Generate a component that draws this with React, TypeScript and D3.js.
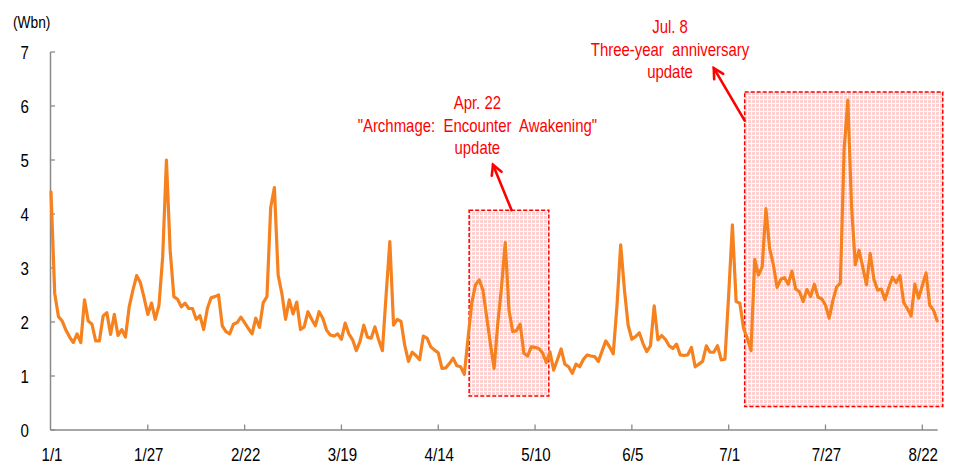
import React from "react";
import * as d3 from "d3";

// Daily revenue (Wbn), 2016-01-01 .. 2016-08-26 (day index 0..238)
const values: number[] = [
  4.41, 2.53, 2.10, 2.02, 1.85, 1.72, 1.62, 1.78, 1.62, 2.41,
  2.02, 1.96, 1.65, 1.65, 2.11, 2.17, 1.77, 2.14, 1.75, 1.86,
  1.72, 2.28, 2.59, 2.86, 2.73, 2.45, 2.14, 2.35, 2.05, 2.31,
  3.21, 5.00, 3.33, 2.47, 2.42, 2.28, 2.35, 2.25, 2.25, 2.05,
  2.12, 1.86, 2.25, 2.45, 2.47, 2.50, 1.93, 1.82, 1.78, 1.96,
  1.99, 2.09, 1.99, 1.88, 1.78, 2.07, 1.90, 2.36, 2.47, 4.12,
  4.49, 2.87, 2.53, 2.05, 2.41, 2.15, 2.37, 1.86, 1.91, 2.19,
  2.05, 1.93, 2.19, 2.07, 1.85, 1.76, 1.74, 1.78, 1.68, 1.98,
  1.78, 1.67, 1.47, 1.64, 1.94, 1.72, 1.70, 1.91, 1.67, 1.47,
  2.50, 3.49, 1.94, 2.05, 2.01, 1.57, 1.27, 1.44, 1.38, 1.30,
  1.74, 1.70, 1.54, 1.48, 1.43, 1.14, 1.15, 1.23, 1.33, 1.19,
  1.17, 1.03, 1.70, 2.35, 2.69, 2.78, 2.59, 2.10, 1.60, 1.14,
  1.98, 2.65, 3.47, 2.22, 1.82, 1.84, 1.96, 1.42, 1.37, 1.54,
  1.53, 1.51, 1.43, 1.25, 1.45, 1.11, 1.30, 1.50, 1.22, 1.17,
  1.05, 1.22, 1.17, 1.31, 1.39, 1.37, 1.36, 1.27, 1.46, 1.65,
  1.54, 1.41, 2.30, 3.43, 2.60, 1.94, 1.68, 1.73, 1.80, 1.60,
  1.45, 1.56, 2.30, 1.67, 1.75, 1.68, 1.56, 1.51, 1.59, 1.39,
  1.38, 1.39, 1.53, 1.17, 1.22, 1.27, 1.56, 1.44, 1.44, 1.56,
  1.30, 1.31, 2.50, 3.80, 2.38, 2.35, 1.88, 1.70, 1.47, 3.16,
  2.87, 3.02, 4.10, 3.36, 3.06, 2.64, 2.79, 2.82, 2.70, 2.94,
  2.61, 2.56, 2.38, 2.60, 2.47, 2.70, 2.46, 2.43, 2.31, 2.07,
  2.40, 2.65, 2.72, 5.19, 6.11, 4.14, 3.06, 3.33, 3.02, 2.69,
  3.27, 2.79, 2.59, 2.61, 2.41, 2.64, 2.83, 2.73, 2.86, 2.36,
  2.25, 2.11, 2.70, 2.44, 2.67, 2.91, 2.31, 2.22, 2.02,
];

const tickDays: number[] = [0, 26, 52, 78, 104, 130, 156, 182, 208, 234];
const tickLabels: string[] = ["1/1", "1/27", "2/22", "3/19", "4/14", "5/10", "6/5", "7/1", "7/27", "8/22"];
const yTicks: number[] = [0, 1, 2, 3, 4, 5, 6, 7];

// annotation boxes in data units: [dayFrom, dayTo, valueLow, valueHigh]
const boxes: number[][] = [
  [112.3, 133.7, 0.63, 4.07],
  [186.3, 239.5, 0.435, 6.26],
];
// arrows in data units: [tailDay, tailValue, headDay, headValue]
const arrows: number[][] = [
  [123.7, 4.07, 118.7, 4.91],
  [186.3, 5.73, 178.0, 6.7],
];
const notes: string[][] = [
  ["Apr. 22", "\"Archmage: Encounter Awakening\"", "update"],
  ["Jul. 8", "Three-year anniversary", "update"],
];
// note anchor in data units: [centerDay, firstBaselineValue]
const noteAnchors: number[][] = [
  [114.5, 5.944],
  [166.25, 7.346],
];

const FONT = "'Liberation Sans', Arial, sans-serif";

export default function App() {
  const x = d3.scaleLinear().domain([0, 234]).range([51, 922.3]);
  const y = d3.scaleLinear().domain([0, 7]).range([430, 52]);
  const line = d3
    .line<number>()
    .x((_, i) => x(i))
    .y((d) => y(d));

  const axisColor = "#8a8a8a";
  const sx = 0.84;
  const xEnd = x(values.length - 1) + 0.5;

  return (
    <svg
      width={954}
      height={466}
      style={{ position: "absolute", left: 0, top: 0, background: "#fff" }}
      fontFamily={FONT}
    >
      <defs>
        <pattern id="pinkgrid" width="4" height="4" patternUnits="userSpaceOnUse">
          <rect width="4" height="4" fill="#ffffff" />
          <rect width="3" height="3" fill="#ffd0d0" />
        </pattern>
      </defs>

      {/* annotation boxes */}
      {boxes.map((b, i) => (
        <rect
          key={"box" + i}
          x={x(b[0])}
          y={y(b[3])}
          width={x(b[1]) - x(b[0])}
          height={y(b[2]) - y(b[3])}
          fill="url(#pinkgrid)"
          stroke="#ff0000"
          strokeWidth={1.5}
          strokeDasharray="4,2"
        />
      ))}

      {/* axes */}
      <line x1={50.5} x2={50.5} y1={y(7)} y2={y(0)} stroke={axisColor} strokeWidth={1.5} />
      <line x1={50.5} x2={xEnd} y1={y(0)} y2={y(0)} stroke={axisColor} strokeWidth={1.5} />
      {yTicks.map((t) => (
        <g key={"yt" + t}>
          <line x1={50.5} x2={55} y1={y(t)} y2={y(t)} stroke={axisColor} strokeWidth={1.3} />
          <text
            transform={`translate(29,${y(t) + 7}) scale(${sx},1)`}
            textAnchor="end"
            fontSize={18}
            fill="#000"
          >
            {t}
          </text>
        </g>
      ))}
      {tickDays.map((d, i) => (
        <g key={"xt" + i}>
          {i > 0 && (
            <line x1={x(d)} x2={x(d)} y1={y(0)} y2={y(0) - 5.5} stroke={axisColor} strokeWidth={1.3} />
          )}
          <text
            transform={`translate(${x(d) + 1},${460.5}) scale(${sx},1)`}
            textAnchor="middle"
            fontSize={18}
            fill="#000"
          >
            {tickLabels[i]}
          </text>
        </g>
      ))}
      <text transform={`translate(13,28) scale(0.86,1)`} fontSize={16} fill="#000">
        (Wbn)
      </text>

      {/* data line */}
      <path
        d={line(values) || ""}
        fill="none"
        stroke="#f5821f"
        strokeWidth={3.2}
        strokeLinejoin="round"
        strokeLinecap="round"
      />

      {/* arrows */}
      {arrows.map((a, i) => {
        const x1 = x(a[0]);
        const y1 = y(a[1]);
        const x2 = x(a[2]);
        const y2 = y(a[3]);
        const ang = Math.atan2(y2 - y1, x2 - x1);
        const L = 11;
        const w = 0.5;
        const p1 = [x2 - L * Math.cos(ang - w), y2 - L * Math.sin(ang - w)];
        const p2 = [x2 - L * Math.cos(ang + w), y2 - L * Math.sin(ang + w)];
        return (
          <g key={"ar" + i} stroke="#ff0000" strokeWidth={2.6} fill="none" strokeLinecap="round">
            <line x1={x1} y1={y1} x2={x2} y2={y2} />
            <polyline points={`${p1[0]},${p1[1]} ${x2},${y2} ${p2[0]},${p2[1]}`} strokeLinejoin="miter" />
          </g>
        );
      })}

      {/* notes */}
      {notes.map((lines, i) =>
        lines.map((t, j) => (
          <text
            key={"n" + i + "-" + j}
            transform={`translate(${x(noteAnchors[i][0])},${y(noteAnchors[i][1]) + j * 22.5}) scale(0.83,1)`}
            textAnchor="middle"
            fontSize={18}
            fill="#ff0000"
            style={{ wordSpacing: j === 1 ? "5px" : "0px" }}
          >
            {t}
          </text>
        ))
      )}
    </svg>
  );
}
